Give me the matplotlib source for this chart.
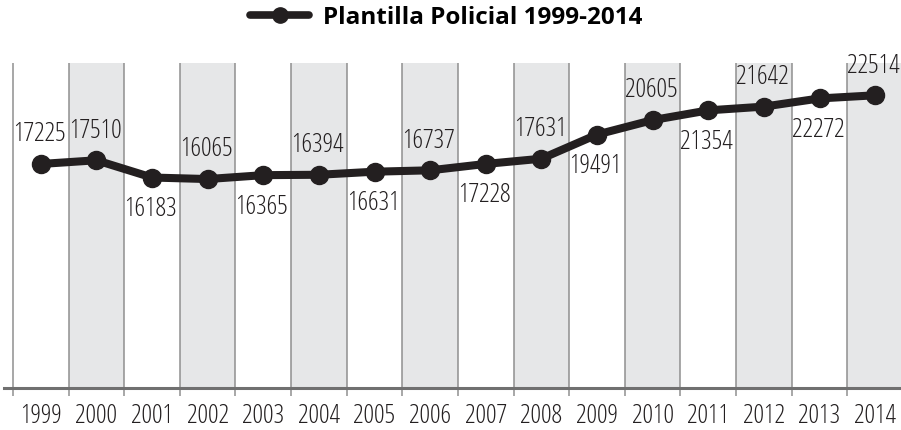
import matplotlib.pyplot as plt
from matplotlib.lines import Line2D

years = ['1999', '2000', '2001', '2002', '2003', '2004', '2005', '2006',
         '2007', '2008', '2009', '2010', '2011', '2012', '2013', '2014']
plantilla = [17225, 17510, 16183, 16065, 16365, 16394, 16631, 16737,
             17228, 17631, 19491, 20605, 21354, 21642, 22272, 22514]
# labels alternate above / below the point
label_above = [True, True, False, True, False, True, False, True,
               False, True, False, True, False, True, False, True]

DARK = '#231f20'
BAND = '#e6e7e8'
GRID = '#8f8f8f'
cond = dict(family='Open Sans', stretch='condensed', weight='light')

fig = plt.figure(figsize=(9.01, 4.30), dpi=100)
ax = fig.add_axes([4 / 901, 42.3 / 430, 899 / 901, 324.7 / 430])

x = list(range(len(years)))

# shaded columns every other year
for i in x:
    if i % 2 == 1:
        ax.axvspan(i - 0.5, i + 0.5, color=BAND, lw=0, zorder=0)

ax.plot(x, plantilla, color=DARK, lw=5.8, marker='o', markersize=13,
        solid_joinstyle='round', zorder=3)

for xi, v, up in zip(x, plantilla, label_above):
    ax.annotate(str(v), (xi, v), xytext=(-1, 12 if up else -14),
                textcoords='offset points', ha='center',
                va='bottom' if up else 'top', fontsize=19,
                color='#231f20', zorder=4, **cond)

ax.set_xlim(-0.66, 15.5)
ax.set_ylim(0, 25000)

ax.set_xticks(x)
ax.set_xticklabels(years, fontsize=19, color='#231f20', **cond)
ax.tick_params(axis='x', which='major', length=0, pad=12)
ax.set_xticks([i - 0.5 for i in range(len(years) + 1)], minor=True)
ax.tick_params(axis='x', which='minor', length=6, width=1.1, color=GRID,
               direction='out')
ax.grid(True, which='minor', axis='x', color=GRID, lw=1.1, zorder=1)
ax.set_yticks([])

for s in ['top', 'right', 'left']:
    ax.spines[s].set_visible(False)
ax.spines['bottom'].set_color('#707070')
ax.spines['bottom'].set_linewidth(2.2)

handle = Line2D([], [], color=DARK, lw=5.5, marker='o', markersize=11,
                solid_capstyle='round')
fig.legend([handle], ['Plantilla Policial 1999-2014'], loc='center',
           bbox_to_anchor=(446.5 / 901, 1 - 18 / 430), frameon=False,
           handlelength=2.4, handletextpad=0.6,
           prop={'family': 'Open Sans', 'weight': 'bold',
                 'stretch': 'normal', 'size': 17.5})

fig.savefig('out.png', dpi=100)
